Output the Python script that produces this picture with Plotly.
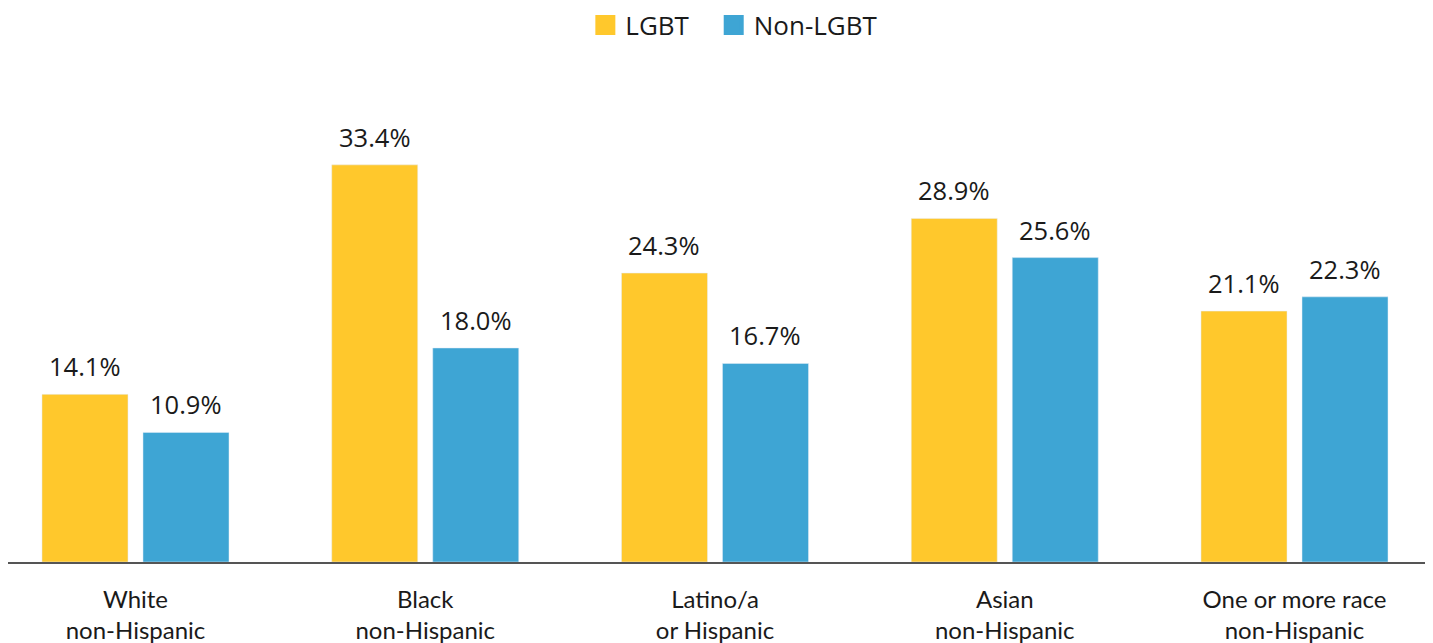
import plotly.graph_objects as go

categories = ["White<br>non-Hispanic", "Black<br>non-Hispanic", "Latino/a<br>or Hispanic",
              "Asian<br>non-Hispanic", "One or more race<br>non-Hispanic"]
lgbt = [14.1, 33.4, 24.3, 28.9, 21.1]
non_lgbt = [10.9, 18.0, 16.7, 25.6, 22.3]
series_names = ["LGBT", "Non-LGBT"]
legend_pad = ["\u2002\u00a0", ""]
colors = ["#FFC82C", "#3EA5D4"]

W, H = 1433, 643
ML, MR, MT, MB = 0, 16, 70, 89
XR = [-0.44, 4.4504]
BARGAP, BGG = 0.3028, 0.1485

fig = go.Figure()
for name, pad, vals, col in zip(series_names, legend_pad, [lgbt, non_lgbt], colors):
    fig.add_trace(go.Bar(x=categories, y=vals, name=name, marker_color=col, showlegend=False))
    fig.add_trace(go.Scatter(x=[None], y=[None], mode="markers", name=name + pad,
                             marker=dict(symbol="square", size=16, color=col,
                                         line=dict(color=col, width=4))))

# value labels placed over each bar centre
px_per_cat = (W - ML - MR) / (XR[1] - XR[0])
slot = px_per_cat * (1 - BARGAP) / 2
for i, vals in enumerate([lgbt, non_lgbt]):
    shift = (i - 0.5) * slot
    for c, v in zip(categories, vals):
        fig.add_annotation(x=c, y=v, text=f"{v:.1f}%", showarrow=False, xshift=shift,
                           yanchor="bottom", yshift=9,
                           font=dict(family="Open Sans", size=25.5, color="#1a1a1a"))

fig.update_layout(
    width=W, height=H,
    barmode="group", bargap=BARGAP, bargroupgap=BGG,
    plot_bgcolor="white", paper_bgcolor="white",
    margin=dict(l=ML, r=MR, t=MT, b=MB),
    legend=dict(orientation="h", x=0.5126, xanchor="center", yref="container", y=1 - 17 / H,
                yanchor="middle", font=dict(family="Open Sans", size=26, color="#1a1a1a"),
                itemwidth=30, tracegroupgap=0),
    showlegend=True,
)
fig.update_xaxes(type="category", range=XR, showline=True, linecolor="#555555",
                 linewidth=1.5, ticks="", showgrid=False, ticklabelstandoff=15,
                 tickfont=dict(family="Lato", size=24, color="#1a1a1a"))
fig.update_yaxes(range=[0, (H - MT - MB) / 11.89], visible=False, showgrid=False, zeroline=False)

fig.write_html("out.html")
